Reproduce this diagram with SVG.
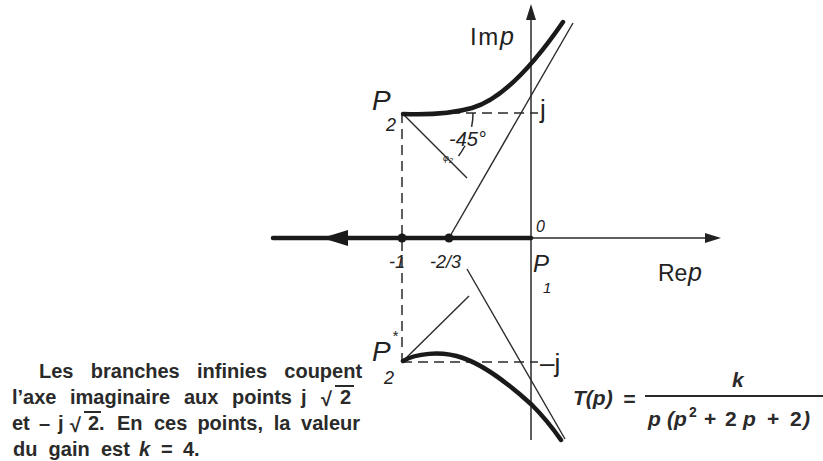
<svg xmlns="http://www.w3.org/2000/svg" width="823" height="461" viewBox="0 0 823 461">
<style>
.ax{stroke:#2a2a2a;stroke-width:1.5;fill:none}
.thick{stroke:#1a1a1a;stroke-width:4.5;fill:none;stroke-linecap:round}
.thin{stroke:#2a2a2a;stroke-width:1.4;fill:none}
.dash{stroke:#2a2a2a;stroke-width:1.5;fill:none;stroke-dasharray:10 6}
.lbl{font-family:"Liberation Sans",Arial,sans-serif;fill:#222;font-style:italic}
.up{font-family:"Liberation Sans",Arial,sans-serif;fill:#222}
.txt{font-family:"Liberation Sans",Arial,sans-serif;fill:#2a2a2a;font-weight:bold;font-size:20px}
.fm{font-family:"Liberation Sans",Arial,sans-serif;fill:#2a2a2a;font-weight:bold;font-size:21px;font-style:italic}
</style>
<rect width="823" height="461" fill="#fff"/>
<g id="connectors">
  <line class="ax" x1="531" y1="440" x2="531" y2="14"/>
  <polygon points="531,4 526,20 536,20" fill="#222"/>
  <line class="ax" x1="531" y1="238" x2="708" y2="238"/>
  <polygon points="721,238 705,233 705,243" fill="#222"/>
  <line class="thick" x1="273" y1="238" x2="531" y2="238" stroke-linecap="butt"/>
  <polygon points="322,238 348,230 348,246" fill="#1a1a1a"/>
  <line class="dash" x1="402" y1="113" x2="402" y2="362"/>
  <line class="dash" x1="402" y1="113" x2="538" y2="113"/>
  <line class="dash" x1="402" y1="362" x2="538" y2="362"/>
  <path class="dash" d="M473,113 A71,71 0 0 1 452.2,163.2" style="stroke-dasharray:14 20 12 20"/>
  <line class="thin" x1="449" y1="238" x2="573" y2="23"/>
  <line class="thin" x1="467" y1="269" x2="565" y2="439"/>
  <line class="thin" x1="402" y1="113" x2="467" y2="178"/>
  <line class="thin" x1="402" y1="362" x2="469" y2="296"/>
  <path class="thick" d="M403,114 C425,115 450,114 472,108 C500,100 530,70 563,22"/>
  <path class="thick" d="M403,361 C415,354 440,350 463,358 S510,385 532,405 C545,418 554,430 561,440"/>
</g>
<g id="points">
  <circle cx="402" cy="238" r="4.5" fill="#1a1a1a"/>
  <circle cx="449" cy="238" r="4.5" fill="#1a1a1a"/>
</g>
<g id="labels">
  <text class="up" x="470" y="45" font-size="24" letter-spacing="1.5">Im</text>
  <text class="lbl" x="500" y="45" font-size="25">p</text>
  <text class="up" x="658" y="281" font-size="23">Re</text>
  <text class="lbl" x="688" y="281" font-size="25">p</text>
  <text class="lbl" x="372" y="110" font-size="28">P</text>
  <text class="lbl" x="386" y="131" font-size="18">2</text>
  <text class="lbl" x="372" y="361" font-size="28">P</text>
  <text class="lbl" x="392" y="341" font-size="15">*</text>
  <text class="lbl" x="384" y="384" font-size="18">2</text>
  <text class="up" x="540" y="118" font-size="26">j</text>
  <text class="up" x="540" y="372" font-size="26">–j</text>
  <text class="lbl" x="536" y="232" font-size="16">0</text>
  <text class="lbl" x="533" y="272" font-size="24">P</text>
  <text class="lbl" x="543" y="293" font-size="15">1</text>
  <text class="lbl" x="389" y="268" font-size="18">-1</text>
  <text class="lbl" x="430" y="268" font-size="18">-2/3</text>
  <text class="lbl" x="449" y="146" font-size="20">-45°</text>
  <text class="lbl" x="443" y="161" font-size="9">φ<tspan font-size="7" dy="2">2</tspan></text>
</g>
<g id="caption">
  <text class="txt" y="378"><tspan x="39">Les</tspan><tspan x="90.8">branches</tspan><tspan x="197">infinies</tspan><tspan x="284.3">coupent</tspan></text>
  <text class="txt" y="404"><tspan x="12">l’axe</tspan><tspan x="70">imaginaire</tspan><tspan x="184">aux</tspan><tspan x="232">points</tspan><tspan x="301">j</tspan></text>
  <text class="txt" x="321" y="406" font-size="24">√</text>
  <text class="txt" x="340" y="404">2</text>
  <line x1="335" y1="386" x2="354" y2="386" stroke="#2a2a2a" stroke-width="2"/>
  <text class="txt" y="430"><tspan x="12">et</tspan><tspan x="39">–</tspan><tspan x="58">j</tspan></text>
  <text class="txt" x="70" y="432" font-size="24">√</text>
  <text class="txt" y="430"><tspan x="88">2.</tspan><tspan x="117">En</tspan><tspan x="154">ces</tspan><tspan x="197.4">points,</tspan><tspan x="273.7">la</tspan><tspan x="301.1">valeur</tspan></text>
  <line x1="84" y1="412" x2="101" y2="412" stroke="#2a2a2a" stroke-width="2"/>
  <text class="txt" y="456"><tspan x="13">du</tspan><tspan x="48.6">gain</tspan><tspan x="100.9">est</tspan><tspan x="139" font-style="italic">k</tspan><tspan x="161">=</tspan><tspan x="183">4.</tspan></text>
</g>
<g id="formula">
  <text class="fm" x="573" y="405">T(p)</text>
  <text class="fm" x="623" y="406" font-size="27" font-style="normal">=</text>
  <text class="fm" x="732" y="387">k</text>
  <line x1="645" y1="396" x2="823" y2="396" stroke="#2a2a2a" stroke-width="2"/>
  <text class="fm" y="426"><tspan x="648">p</tspan><tspan x="667">(p</tspan><tspan x="689" dy="-9" font-size="14" font-style="normal">2</tspan><tspan x="704" dy="9" font-style="normal">+</tspan><tspan x="725" font-style="normal">2</tspan><tspan x="743">p</tspan><tspan x="767" font-style="normal">+</tspan><tspan x="790" font-style="normal">2</tspan><tspan x="803">)</tspan></text>
</g>
</svg>
